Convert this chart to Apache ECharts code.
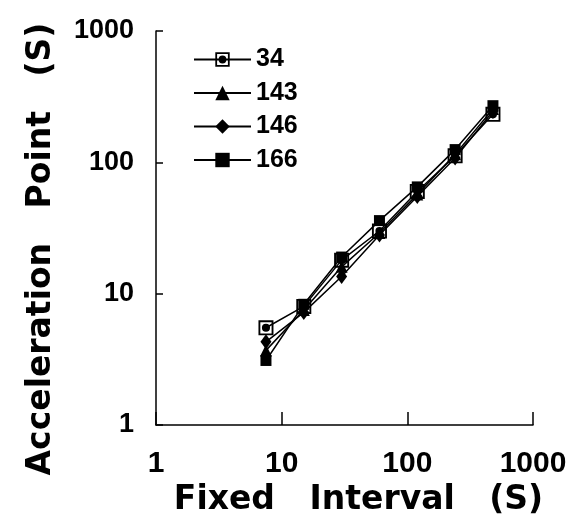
<!DOCTYPE html>
<html>
<head>
<meta charset="utf-8">
<script src="https://cdn.jsdelivr.net/npm/echarts@6/dist/echarts.min.js"></script>
<style>html,body{margin:0;padding:0;background:#fff}#c{width:577px;height:525px}</style>
</head>
<body>
<div id="c"></div>
<script>
var fixedIntervals = [7.5, 15, 30, 60, 120, 240, 480];
var series34  = [5.5, 8.0, 18, 30, 60, 112, 232];
var series143 = [3.7, 7.5, 16, 29, 57, 115, 255];
var series146 = [4.3, 7.2, 13.5, 28, 55, 108, 245];
var series166 = [3.1, 8.3, 19, 36, 65, 125, 270];
var seriesNames = ['34', '143', '146', '166'];

function pairs(ys){ return fixedIntervals.map(function(x,i){ return [x, ys[i]]; }); }
function plain(v){ return String(Math.round(v)); }

var squareDot = 'path://M0,0H20V20H0Z M2.5,2.5V17.5H17.5V2.5Z M10,4.6A5.4,5.4 0 1 1 10,15.4A5.4,5.4 0 1 1 10,4.6Z';
var baseLine = {type:'line', lineStyle:{color:'#000', width:1.5}, itemStyle:{color:'#000', borderWidth:0}, showSymbol:true, animation:false};

var chart = echarts.init(document.getElementById('c'));
chart.setOption({
  backgroundColor:'#fff',
  animation:false,
  grid:{left:156, right:44, top:31, bottom:100},
  legend:{
    orient:'vertical', left:193, top:47, padding:0,
    itemWidth:57, itemHeight:18, itemGap:8.5,
    textStyle:{fontFamily:'Liberation Sans', fontWeight:'bold', fontSize:25, color:'#000', lineHeight:25},
    data:seriesNames
  },
  xAxis:{
    type:'log', logBase:10, min:1, max:1000,
    name:'Fixed   Interval   (S)', nameLocation:'middle', nameGap:42,
    nameTextStyle:{fontFamily:'DejaVu Sans', fontWeight:'bold', fontSize:33, color:'#000', padding:[0,0,0,28]},
    axisLine:{lineStyle:{color:'#000', width:1.5}},
    axisTick:{inside:true, length:13, lineStyle:{color:'#000', width:1.5}},
    axisLabel:{fontFamily:'Liberation Sans', fontWeight:'bold', fontSize:30, color:'#000', margin:24, formatter:plain},
    splitLine:{show:false}, minorTick:{show:false}
  },
  yAxis:{
    type:'log', logBase:10, min:1, max:1000,
    name:'Acceleration   Point   (S)', nameLocation:'middle', nameGap:98, nameRotate:90,
    nameTextStyle:{fontFamily:'DejaVu Sans', fontWeight:'bold', fontSize:33, color:'#000', padding:[0,42,0,0]},
    axisLine:{lineStyle:{color:'#000', width:1.5}},
    axisTick:{inside:true, length:7, lineStyle:{color:'#000', width:1.5}},
    axisLabel:{fontFamily:'Liberation Sans', fontWeight:'bold', fontSize:27, color:'#000', margin:22, formatter:plain},
    splitLine:{show:false}, minorTick:{show:false}
  },
  series:[
    Object.assign({}, baseLine, {name:'34',  data:pairs(series34),  symbol:squareDot, symbolSize:15, symbolKeepAspect:true, z:5}),
    Object.assign({}, baseLine, {name:'143', data:pairs(series143), symbol:'triangle', symbolSize:12}),
    Object.assign({}, baseLine, {name:'146', data:pairs(series146), symbol:'diamond', symbolSize:[11,15]}),
    Object.assign({}, baseLine, {name:'166', data:pairs(series166), symbol:'rect', symbolSize:11})
  ]
});
</script>
</body>
</html>
